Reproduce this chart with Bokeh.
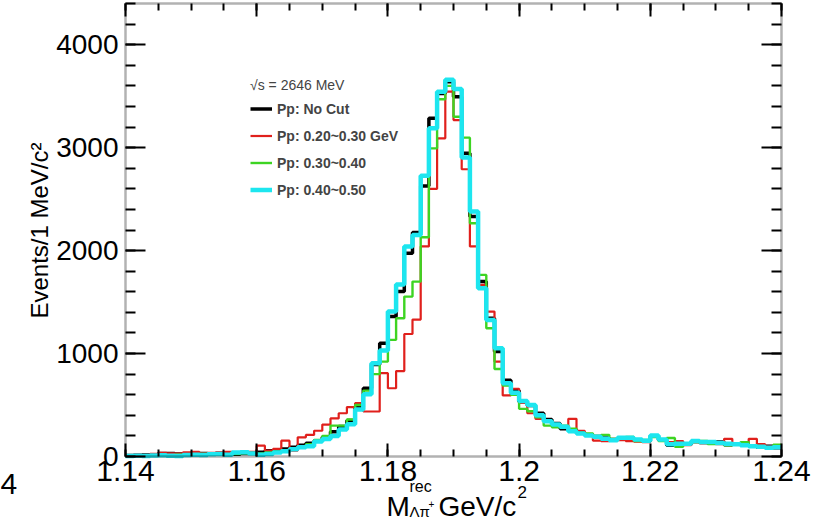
from bokeh.plotting import figure
from bokeh.models import Range1d, FixedTicker, LinearAxis, Legend, LegendItem, Label, BoxAnnotation
from bokeh.embed import file_html
from bokeh.resources import INLINE

# ---------------- data ----------------
bin_lo = 1.14
bin_width = 0.00125
n_bins = 80

nocut = [10, 12, 15, 18, 30, 28, 25, 20, 25, 30, 22, 28, 35, 22, 30, 35, 42, 55, 60, 72,
         90, 110, 129, 154, 190, 240, 291, 350, 480, 663, 893, 1100, 1359, 1602, 1974, 2175, 2628, 3285, 3527, 3640,
         3495, 2945, 2330, 1699, 1343, 1019, 740, 640, 530, 495, 420, 360, 320, 270, 260, 230, 210, 195, 180, 165,
         175, 170, 160, 150, 200, 160, 110, 135, 120, 145, 135, 130, 140, 115, 125, 120, 105, 90, 100, 85]

pp_020_030 = [10, 15, 12, 25, 35, 30, 28, 40, 45, 30, 35, 40, 45, 30, 35, 45, 105, 58, 74, 154,
              58, 186, 210, 250, 310, 370, 420, 480, 518, 437, 437, 809, 663, 830, 1190, 1330, 2040, 2600, 3090, 3544,
              3268, 2790, 2040, 1667, 1408, 922, 593, 658, 520, 420, 365, 340, 300, 290, 366, 250, 200, 155, 150, 165,
              160, 150, 145, 140, 190, 160, 140, 150, 110, 140, 130, 125, 120, 172, 130, 115, 172, 120, 95, 100]

pp_030_040 = [8, 10, 8, 12, 15, 12, 18, 15, 20, 25, 20, 28, 22, 25, 30, 35, 30, 40, 50, 60,
              75, 95, 120, 160, 200, 300, 300, 360, 500, 640, 800, 922, 1133, 1343, 1553, 1699, 2130, 2993, 3470, 3600,
              3300, 3097, 2265, 1764, 1246, 850, 690, 600, 463, 440, 380, 300, 284, 300, 270, 230, 225, 200, 210, 170,
              175, 190, 150, 160, 190, 150, 180, 95, 130, 140, 150, 120, 135, 110, 130, 140, 110, 100, 80, 115]

pp_040_050 = [5, 8, 6, 10, 12, 8, 6, 14, 18, 15, 22, 25, 18, 40, 42, 28, 18, 25, 40, 50,
              70, 90, 100, 146, 170, 200, 262, 314, 456, 605, 906, 1029, 1408, 1670, 2039, 2152, 2728, 3188, 3544, 3660,
              3570, 2903, 2379, 1634, 1327, 1052, 712, 620, 538, 500, 400, 343, 311, 288, 246, 224, 204, 191, 172, 159,
              181, 181, 165, 152, 204, 165, 120, 125, 125, 150, 140, 140, 130, 125, 120, 110, 100, 95, 85, 90]

series_labels = ["Pp: No Cut", "Pp: 0.20~0.30 GeV", "Pp: 0.30~0.40", "Pp: 0.40~0.50"]
legend_title = "\u221as = 2646 MeV"

x_ticks = [1.14, 1.16, 1.18, 1.20, 1.22, 1.24]
x_tick_labels = ["1.14", "1.16", "1.18", "1.2", "1.22", "1.24"]
x_minor = [round(1.14 + 0.005 * i, 3) for i in range(21)]
y_ticks = [0, 1000, 2000, 3000, 4000]
y_minor = [200 * i for i in range(23)]

x_title_parts = ["M", "rec", "\u039b\u03c0", "+", "GeV/c", "2"]
y_title = "Events/1 MeV/c\u00b2"

# ---------------- geometry (canvas pixels) ----------------
CW, CH = 838, 525
BOX_L, BOX_R, BOX_T, BOX_B = 125, 781, 3, 456     # plot box in canvas px
XMIN, XMAX = 1.14, 1.24
YMIN, YMAX = 0, 4400
ppx = (BOX_R - BOX_L) / (XMAX - XMIN)
ppy = (BOX_B - BOX_T) / (YMAX - YMIN)


def dx(px):
    return XMIN + (px - BOX_L) / ppx


def dy(py):
    return YMIN + (BOX_B - py) / ppy


edges = [bin_lo + i * bin_width for i in range(n_bins + 1)]


def stepvals(v):
    return list(v) + [v[-1]]


FONT = "Liberation Sans"

p = figure(width=CW, height=CH,
           x_range=Range1d(dx(0), dx(CW)), y_range=Range1d(dy(CH), dy(0)),
           output_backend="svg", toolbar_location=None,
           min_border_left=0, min_border_right=0, min_border_top=0, min_border_bottom=0)
p.grid.visible = False
p.outline_line_color = None
p.background_fill_color = "white"
p.border_fill_color = "white"

styles = [("black", 3.5), ("#e0201c", 2.2), ("#3dd422", 2.4), ("#1de6ef", 4.5)]
renderers = []
for vals, (col, lw) in zip([nocut, pp_020_030, pp_030_040, pp_040_050], styles):
    r = p.step(edges, stepvals(vals), mode="after", line_color=col, line_width=lw)
    renderers.append(r)

p.add_layout(BoxAnnotation(left=XMIN, right=XMAX, bottom=YMIN, top=YMAX,
                           fill_color=None, fill_alpha=0, line_color="black", line_width=2.5,
                           level="overlay"))

xt = FixedTicker(ticks=x_ticks, minor_ticks=x_minor)
yt = FixedTicker(ticks=y_ticks, minor_ticks=y_minor)


def style_axis(ax, maj, mnr, size):
    ax.axis_line_color = None
    ax.major_tick_in = maj
    ax.major_tick_out = 0
    ax.minor_tick_in = mnr
    ax.minor_tick_out = 0
    ax.major_tick_line_width = 2
    ax.minor_tick_line_width = 2
    ax.major_tick_line_color = "black"
    ax.minor_tick_line_color = "black"
    ax.major_label_text_font = FONT
    ax.major_label_text_color = "black"
    ax.major_label_text_font_size = size


xb = p.xaxis[0]
xb.ticker = xt
xb.bounds = (XMIN, XMAX)
xb.fixed_location = YMIN
xb.major_label_overrides = dict(zip(x_ticks, x_tick_labels))
style_axis(xb, 13, 7, "30px")
xb.major_label_standoff = 4

yl = p.yaxis[0]
yl.ticker = yt
yl.bounds = (YMIN, YMAX)
yl.fixed_location = XMIN
style_axis(yl, 20, 10, "28px")
yl.major_label_standoff = 7

xa = LinearAxis(ticker=xt, bounds=(XMIN, XMAX), fixed_location=YMAX)
style_axis(xa, 13, 7, "0px")
xa.major_label_text_alpha = 0
p.add_layout(xa, "above")
ya = LinearAxis(ticker=yt, bounds=(YMIN, YMAX), fixed_location=XMAX)
style_axis(ya, 20, 10, "0px")
ya.major_label_text_alpha = 0
p.add_layout(ya, "right")

legend = Legend(items=[LegendItem(label=l, renderers=[r]) for l, r in zip(series_labels, renderers)],
                location=(250, 322), title=legend_title,
                title_text_font=FONT, title_text_font_style="normal", title_text_font_size="14px",
                title_standoff=2,
                label_text_font=FONT, label_text_font_style="bold", label_text_font_size="14px",
                glyph_width=22, glyph_height=27, label_height=27, label_standoff=5,
                spacing=0, padding=0, margin=0,
                border_line_color=None, background_fill_alpha=0)
p.add_layout(legend, "center")


def lab(text, px, py, size, align="left", baseline="alphabetic", angle=0.0):
    p.add_layout(Label(x=dx(px), y=dy(py), text=text, text_font=FONT,
                       text_font_size=size, text_align=align, text_baseline=baseline,
                       angle=angle, text_color="black"))


# x-axis title: M^{rec}_{Λπ+} GeV/c^2
lab(x_title_parts[0], 386, 506, "28px")
lab(x_title_parts[1], 409, 486, "16px")
lab(x_title_parts[2], 409, 511, "15px")
lab(x_title_parts[3], 428, 503, "10px")
lab(x_title_parts[4], 438, 506, "28px")
lab(x_title_parts[5], 517, 491, "17px")

# y-axis title
lab(y_title, 39, 230, "24px", align="center", baseline="middle", angle=1.5708)

# stray glyph from a neighbouring panel
lab("4", 0, 483, "30px")

open("out.html", "w").write(file_html(p, INLINE))
